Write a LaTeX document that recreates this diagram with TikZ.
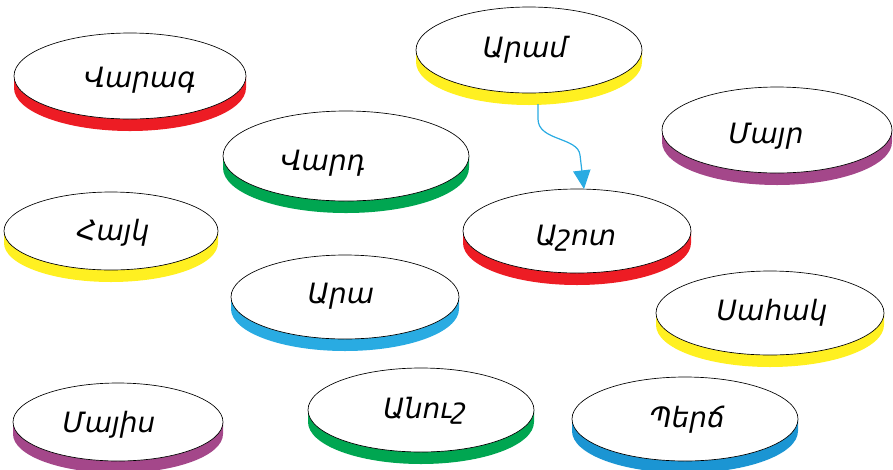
\documentclass[tikz,border=0pt]{standalone}
\usepackage{fontspec}
\newfontfamily\armfont{DejaVu Sans}
\usetikzlibrary{arrows.meta,shapes.geometric}
\definecolor{cred}{HTML}{ED1C24}
\definecolor{cgreen}{HTML}{00A651}
\definecolor{cyellow}{HTML}{FFF021}
\definecolor{cpurple}{HTML}{A4478A}
\definecolor{cblue}{HTML}{29ABE2}
\definecolor{cblueb}{HTML}{1B95D3}
\tikzset{
  discface/.style={ellipse, draw=black, line width=0.5pt, fill=white, inner sep=0pt, outer sep=0pt},
  lbl/.style={font=\armfont\itshape\fontsize{21}{25}\selectfont, anchor=base, inner sep=0pt},
  linkarrow/.style={draw=cblue, line width=0.9pt, -{Triangle[width=13pt,length=14pt]}}
}
% #1 name, #2 cx, #3 cy, #4 rx, #5 ry, #6 colour, #7 tx, #8 baseline y, #9 text
\newcommand\discnode[9]{%
  \fill[#6] ({#2-#4},{-#3}) -- ({#2-#4},{-#3-12}) arc[start angle=180, end angle=360, x radius=#4, y radius=#5] -- ({#2+#4},{-#3}) -- cycle;
  \node[discface, minimum width={2*#4*0.75pt}, minimum height={2*#5*0.75pt}] (#1) at (#2,-#3) {};
  \node[lbl] (#1-t) at (#7,-#8) {#9};
}
\begin{document}
\begin{tikzpicture}[x=0.75pt,y=0.75pt]
\useasboundingbox (0,0) rectangle (893,-469);
\discnode{varag}{130}{76}{116}{43}{cred}{140}{87}{Վարագ}
\discnode{aram}{529}{50}{113}{43}{cyellow}{525}{57}{Արամ}
\discnode{vard}{346}{156}{123}{45}{cgreen}{323}{170}{Վարդ}
\discnode{mayr}{777}{130}{115}{43}{cpurple}{766}{143}{Մայր}
\discnode{hayk}{111}{231}{107}{39}{cyellow}{113}{240}{Հայկ}
\discnode{ashot}{577}{231}{114}{42}{cred}{576}{245}{Աշոտ}
\discnode{ara}{345}{297}{114}{42}{cblue}{341}{303}{Արա}
\discnode{sahak}{770}{313}{114}{42}{cyellow}{772}{320}{Սահակ}
\discnode{mayis}{118}{422}{105}{39}{cpurple}{109}{432}{Մայիս}
\discnode{anush}{421}{410}{113}{42}{cgreen}{425}{418}{Անուշ}
\discnode{perch}{685}{419}{113}{42}{cblueb}{687}{427}{Պերճ}
\draw[linkarrow] ([shift={(9,-11)}]aram.south) -- ++(0,-15) .. controls ++(0,-22) and ++(-2,18) .. ([shift={(3,34)}]ashot.north) -- ([shift={(7,0)}]ashot.north);
\end{tikzpicture}
\end{document}
